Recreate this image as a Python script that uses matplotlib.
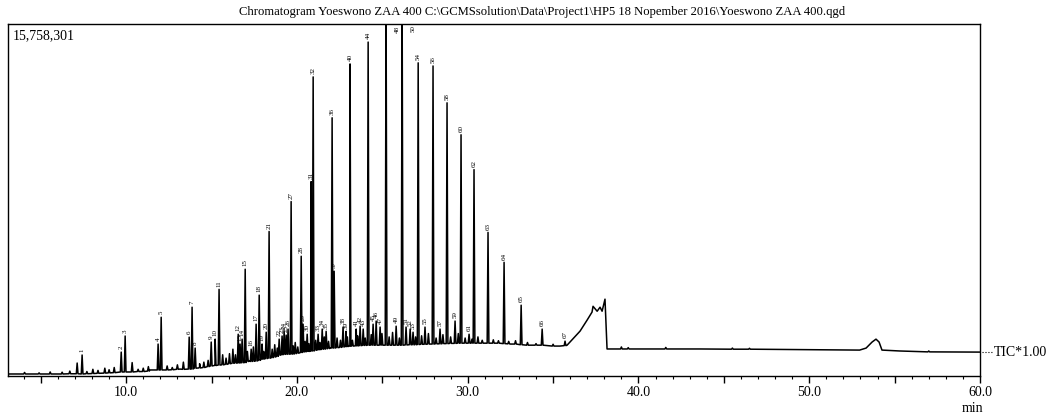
import matplotlib
matplotlib.use('Agg')
import matplotlib.pyplot as plt
from matplotlib.ticker import MultipleLocator, FuncFormatter
import matplotlib.transforms as mtransforms

plt.rcParams['font.family'] = ['Liberation Serif', 'DejaVu Serif']

# full scale of the TIC window (counts), values below are in millions of counts
full_scale = 15758301
title = r'Chromatogram Yoeswono ZAA 400 C:\GCMSsolution\Data\Project1\HP5 18 Nopember 2016\Yoeswono ZAA 400.qgd'

# baseline (lower envelope of the trace), time in min
base_t = [3.1, 6.1, 9.65, 11.4, 13.15, 14.3, 15.2, 16.1, 17.25, 18.45, 19.6, 20.8, 21.95,
          23.1, 24.3, 26.05, 27.8, 29.55, 31.3, 32.5, 33.65, 35.4, 35.82, 36.1, 36.58,
          36.99, 37.28, 37.34, 37.58, 37.75, 37.87, 38.04, 38.16, 43.6, 52.95, 53.33,
          53.68, 53.91, 54.09, 54.26, 55.3, 60.0]
base_y = [0.09, 0.09, 0.18, 0.27, 0.31, 0.40, 0.49, 0.58, 0.67, 0.80, 0.98, 1.12, 1.25,
          1.34, 1.38, 1.38, 1.43, 1.47, 1.47, 1.43, 1.38, 1.34, 1.38, 1.61, 2.01,
          2.50, 2.86, 3.12, 2.90, 3.08, 2.90, 3.44, 1.21, 1.21, 1.16, 1.25,
          1.52, 1.65, 1.52, 1.16, 1.12, 1.07]

# numbered peaks: retention time, apex, foot
peak_label = [str(i) for i in range(1, 68)]
peak_rt = [7.42, 9.71, 9.94, 11.87, 12.05, 13.69, 13.86, 14.04, 14.98, 15.21,
           15.44, 16.56, 16.67, 16.79, 16.97, 17.32, 17.61, 17.79, 17.96, 18.20,
           18.37, 18.96, 19.13, 19.25, 19.37, 19.48, 19.66, 20.25, 20.36, 20.60,
           20.83, 20.95, 21.24, 21.48, 21.71, 22.06, 22.18, 22.70, 22.88, 23.11,
           23.47, 23.70, 23.88, 24.17, 24.46, 24.64, 24.87, 25.22, 25.81, 26.16,
           26.39, 26.63, 26.80, 27.10, 27.50, 27.97, 28.38, 28.79, 29.26, 29.61,
           30.08, 30.37, 31.19, 32.13, 33.13, 34.36, 35.70]
peak_top = [0.94, 1.07, 1.79, 1.43, 2.63, 1.74, 3.08, 1.25, 1.52, 1.65,
            3.88, 1.87, 1.43, 1.65, 4.78, 1.20, 2.32, 3.62, 1.43, 1.96,
            6.47, 1.65, 1.79, 2.00, 1.83, 2.10, 7.81, 5.36, 2.32, 1.87,
            8.70, 13.39, 1.87, 2.10, 2.00, 11.56, 4.69, 2.19, 2.00, 13.97,
            2.10, 2.23, 2.10, 14.95, 2.32, 2.46, 2.19, 17.0, 2.23, 17.0,
            2.19, 2.10, 1.96, 14.02, 2.19, 13.88, 2.10, 12.23, 2.46, 10.80,
            1.87, 9.24, 6.43, 5.09, 3.17, 2.10, 1.56]
peak_foot = [0.09, 0.18, 0.18, 0.27, 0.27, 0.31, 0.31, 0.35, 0.45, 0.47,
             0.49, 0.58, 0.58, 0.60, 0.60, 0.65, 0.67, 0.70, 0.75, 0.78,
             0.80, 0.93, 0.95, 0.97, 0.97, 0.98, 0.98, 1.05, 1.07, 1.10,
             1.12, 1.12, 1.17, 1.20, 1.22, 1.25, 1.25, 1.30, 1.32, 1.34,
             1.35, 1.36, 1.37, 1.38, 1.38, 1.38, 1.38, 1.38, 1.38, 1.38,
             1.39, 1.40, 1.40, 1.41, 1.42, 1.43, 1.44, 1.45, 1.46, 1.47,
             1.47, 1.47, 1.47, 1.45, 1.40, 1.38, 1.36]

# small unnumbered spikes (noise)
noise_rt = [4.05, 4.9, 5.55, 6.25, 6.7, 7.13, 7.7, 8.05, 8.35, 8.75, 9.0, 9.3,
            10.35, 10.7, 11.0, 11.3, 12.4, 12.7, 13.0, 13.35, 14.3, 14.55, 14.8,
            15.65, 15.85, 16.05, 16.25, 16.4, 17.1, 17.45, 18.05, 18.55, 18.7, 18.85,
            19.78, 19.9, 20.05, 20.48, 20.7, 21.1, 21.35, 21.6, 21.85,
            22.35, 22.55, 22.95, 23.25, 23.55, 24.0, 24.35, 24.98, 25.4, 25.6, 26.0,
            26.95, 27.3, 27.7, 28.15, 28.55, 29.0, 29.45, 29.85, 30.25, 30.6, 30.85,
            31.5, 31.8, 32.4, 32.8, 33.5, 34.0, 35.0,
            39.0, 39.4, 41.6, 45.5, 46.5, 57.0]
noise_top = [0.16, 0.14, 0.18, 0.17, 0.22, 0.58, 0.20, 0.30, 0.25, 0.35, 0.28, 0.38,
             0.60, 0.30, 0.35, 0.42, 0.45, 0.38, 0.50, 0.62, 0.55, 0.62, 0.70,
             0.95, 0.80, 1.00, 1.20, 0.95, 1.10, 1.30, 1.10, 1.20, 1.40, 1.25,
             1.35, 1.50, 1.30, 1.55, 1.45, 1.60, 1.50, 1.75, 1.55,
             1.70, 1.60, 1.75, 1.60, 1.80, 1.70, 1.85, 1.90, 1.75, 1.95, 1.70,
             1.75, 1.80, 1.90, 1.70, 1.85, 1.75, 1.90, 1.70, 1.65, 1.75, 1.60,
             1.62, 1.58, 1.55, 1.58, 1.50, 1.45, 1.42,
             1.30, 1.27, 1.28, 1.25, 1.24, 1.12]
noise_foot = [0.09, 0.09, 0.09, 0.09, 0.10, 0.10, 0.10, 0.11, 0.12, 0.13, 0.14, 0.15,
              0.18, 0.20, 0.20, 0.22, 0.27, 0.28, 0.30, 0.30, 0.36, 0.38, 0.42,
              0.50, 0.52, 0.55, 0.57, 0.58, 0.65, 0.66, 0.76, 0.82, 0.85, 0.88,
              0.98, 1.00, 1.02, 1.08, 1.10, 1.15, 1.18, 1.20, 1.23,
              1.27, 1.28, 1.32, 1.34, 1.35, 1.37, 1.38, 1.38, 1.38, 1.38, 1.38,
              1.40, 1.42, 1.43, 1.44, 1.45, 1.46, 1.47, 1.47, 1.47, 1.47, 1.47,
              1.47, 1.47, 1.44, 1.43, 1.38, 1.38, 1.34,
              1.21, 1.21, 1.21, 1.20, 1.20, 1.08]

ymax = full_scale / 1e6
hw = 0.05  # half width of a spike, min

# build the trace: baseline points plus a triangle for each spike
pts = list(zip(base_t, base_y))
for rt, top, foot in zip(peak_rt + noise_rt, peak_top + noise_top, peak_foot + noise_foot):
    pts += [(rt - hw, foot), (rt, top), (rt + hw, foot)]
pts.sort(key=lambda p: p[0])
trace_t = [p[0] for p in pts]
trace_y = [p[1] for p in pts]

fig = plt.figure(figsize=(10.53, 4.17), dpi=100)
ax = fig.add_axes([8 / 1053, 41 / 417, 972 / 1053, 352 / 417])
ax.plot(trace_t, trace_y, color='black', lw=1.1)
ax.set_xlim(3.08, 60)
ax.set_ylim(0, ymax)

for lbl, rt, top in zip(peak_label, peak_rt, peak_top):
    if top > ymax:
        ax.annotate(lbl, (rt, ymax), xytext=(8, -1), textcoords='offset points',
                    rotation=90, ha='center', va='top', fontsize=5)
    else:
        ax.annotate(lbl, (rt, top), xytext=(0, 2), textcoords='offset points',
                    rotation=90, ha='center', va='bottom', fontsize=5)

ax.xaxis.set_major_locator(MultipleLocator(5))
ax.xaxis.set_minor_locator(MultipleLocator(1))
ax.xaxis.set_major_formatter(FuncFormatter(lambda v, p: '%.1f' % v if v % 10 == 0 else ''))
ax.tick_params(axis='x', which='major', length=5, width=1, labelsize=10, pad=2)
ax.tick_params(axis='x', which='minor', length=2.5, width=0.8)
ax.set_yticks([])
for s in ax.spines.values():
    s.set_linewidth(1)

ax.text(0.005, 0.985, '15,758,301', transform=ax.transAxes, ha='left', va='top', fontsize=10)

# TIC tag at the end of the trace
trans = mtransforms.blended_transform_factory(ax.transAxes, ax.transData)
ax.plot([1.002, 1.013], [trace_y[-1], trace_y[-1]], ls=':', lw=0.8, color='black',
        transform=trans, clip_on=False)
ax.text(1.014, trace_y[-1], 'TIC*1.00', transform=trans, ha='left', va='center', fontsize=10)

fig.text(542 / 1053, 1 - 12 / 417, title, ha='center', va='center', fontsize=9.1)
fig.text(972 / 1053, 1 - 408 / 417, 'min', ha='center', va='center', fontsize=10)

fig.savefig('out.png', dpi=100)
